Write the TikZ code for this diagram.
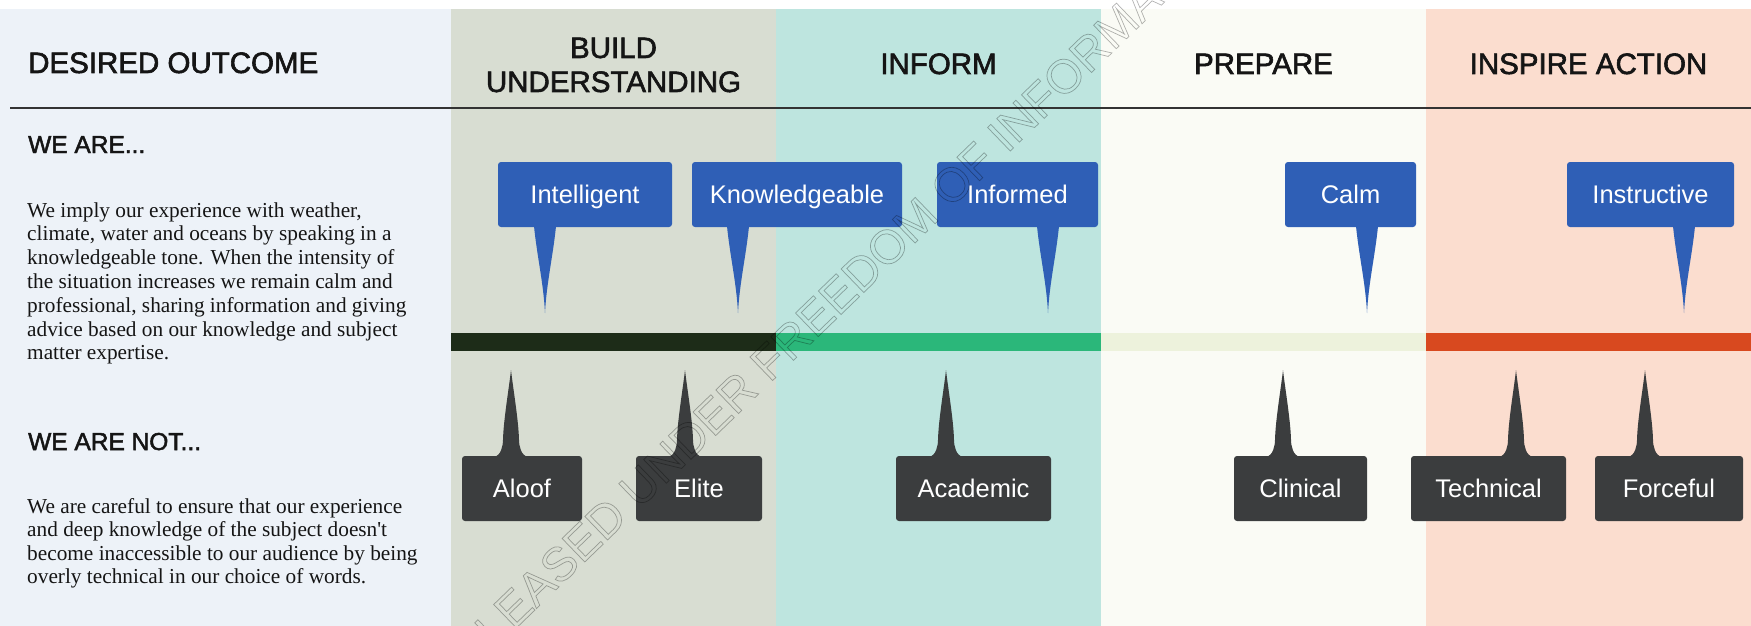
\documentclass[tikz,border=0pt]{standalone}
\usepackage{fontspec}
\setmainfont{Liberation Serif}
\setsansfont{Liberation Sans}
\newfontfamily\headfont[FakeBold=2]{Liberation Sans}
\usetikzlibrary{calc}

\definecolor{outcomebg}{HTML}{EDF2F8}
\definecolor{buildbg}{HTML}{D8DDD2}
\definecolor{informbg}{HTML}{BEE5DF}
\definecolor{preparebg}{HTML}{FAFBF5}
\definecolor{inspirebg}{HTML}{FBDDCF}
\definecolor{barbuild}{HTML}{1D2C18}
\definecolor{barinform}{HTML}{2BB77A}
\definecolor{barprepare}{HTML}{EDF2DC}
\definecolor{barinspire}{HTML}{D8491F}
\definecolor{isblue}{HTML}{2F5FB6}
\definecolor{notgrey}{HTML}{3B3D3E}
\definecolor{rulegrey}{HTML}{333333}
\definecolor{inktext}{HTML}{151515}

\begin{document}
\begin{tikzpicture}[x=1pt,y=-1pt,
  head/.style={font=\headfont\fontsize{29.5}{34}\selectfont, text=inktext, inner sep=0pt},
  subhead/.style={font=\headfont\fontsize{24.5}{30}\selectfont, text=inktext, inner sep=0pt},
  body/.style={font=\fontsize{21.3}{24}\selectfont, text=inktext, inner sep=0pt, anchor=base west},
  tagbox/.style={rounded corners=3pt, minimum height=65pt, inner sep=0pt, text=white,
    font=\sffamily\fontsize{25.5}{30}\selectfont, text height=18.3pt, text depth=0pt},
  isbox/.style={tagbox, fill=isblue},
  notbox/.style={tagbox, fill=notgrey},
]
\useasboundingbox (0,0) rectangle (1751,626);

% column backgrounds
\fill[outcomebg] (0,9) rectangle (451,626);
\fill[buildbg] (451,9) rectangle (776,626);
\fill[informbg] (776,9) rectangle (1101,626);
\fill[preparebg] (1101,9) rectangle (1426,626);
\fill[inspirebg] (1426,9) rectangle (1751,626);

% header rule
\draw[rulegrey, line width=1.5pt] (10,108) -- (1751,108);

% column headings
\node[head, anchor=base west] (outcome) at (28,73) {DESIRED OUTCOME};
\node[head, anchor=base] (build1) at (613.5,58) {BUILD};
\node[head, anchor=base] (build2) at (613.5,92) {UNDERSTANDING};
\node[head, anchor=base] (inform) at (938.5,74) {INFORM};
\node[head, anchor=base] (prepare) at (1263.5,74) {PREPARE};
\node[head, anchor=base] (inspire) at (1588.5,74) {INSPIRE ACTION};

% left column text
\node[subhead, anchor=base west] (weare) at (28,153) {WE ARE...};
\foreach \t [count=\i from 0] in {
  {We imply our experience with weather,},
  {climate, water and oceans by speaking in a},
  {knowledgeable tone. When the intensity of},
  {the situation increases we remain calm and},
  {professional, sharing information and giving},
  {advice based on our knowledge and subject},
  {matter expertise.}}
  \node[body] (weare-\i) at (27,217+23.8*\i) {\t};

\node[subhead, anchor=base west] (wearenot) at (28,450) {WE ARE NOT...};
\foreach \t [count=\i from 0] in {
  {We are careful to ensure that our experience},
  {and deep knowledge of the subject doesn\textquotesingle t},
  {become inaccessible to our audience by being},
  {overly technical in our choice of words.}}
  \node[body] (wearenot-\i) at (27,513+23.5*\i) {\t};

% scale bar
\fill[barbuild] (451,333) rectangle (776,351);
\fill[barinform] (776,333) rectangle (1101,351);
\fill[barprepare] (1101,333) rectangle (1426,351);
\fill[barinspire] (1426,333) rectangle (1751,351);

% what we are
\node[isbox, minimum width=174pt] (intelligent) at (585,194.5) {Intelligent};
\node[isbox, minimum width=210pt] (knowledgeable) at (797,194.5) {Knowledgeable};
\node[isbox, minimum width=161pt] (informed) at (1017.5,194.5) {Informed};
\node[isbox, minimum width=131pt] (calm) at (1350.5,194.5) {Calm};
\node[isbox, minimum width=167pt] (instructive) at (1650.5,194.5) {Instructive};

\foreach \n/\x in {intelligent/545, knowledgeable/738, informed/1048, calm/1367, instructive/1684} {
  \coordinate (\n-tip) at (\x,313);
  \coordinate (\n-base) at (\n.south -| \n-tip);
  \fill[isblue] ($(\n-base)+(-11,-1)$) .. controls +(3,30) and +(-1.5,-30) .. (\n-tip)
    .. controls +(1.5,-30) and +(-3,30) .. ($(\n-base)+(11,-1)$) -- cycle;
}

% what we are not
\node[notbox, minimum width=120pt] (aloof) at (522,488.5) {Aloof};
\node[notbox, minimum width=126pt] (elite) at (699,488.5) {Elite};
\node[notbox, minimum width=155pt] (academic) at (973.5,488.5) {Academic};
\node[notbox, minimum width=133pt] (clinical) at (1300.5,488.5) {Clinical};
\node[notbox, minimum width=155pt] (technical) at (1488.5,488.5) {Technical};
\node[notbox, minimum width=148pt] (forceful) at (1669,488.5) {Forceful};

\foreach \n/\x in {aloof/511, elite/685, academic/946, clinical/1283, technical/1516, forceful/1645} {
  \coordinate (\n-tip) at (\x,370);
  \coordinate (\n-base) at (\n.north -| \n-tip);
  \fill[notgrey] ($(\n-base)+(-17,1)$) .. controls +(7,-1) and +(0,6) .. ($(\n-base)+(-8,-16)$)
    .. controls +(0.5,-20) and +(-2,18) .. (\n-tip)
    .. controls +(2,18) and +(-0.5,-20) .. ($(\n-base)+(8,-16)$)
    .. controls +(0,6) and +(-7,-1) .. ($(\n-base)+(17,1)$) -- cycle;
}

% release stamp across the sheet, drawn as hollow letters
\coordinate (stamp-start) at (447,695);
\node[rotate=44, anchor=base west, font=\sffamily\fontsize{47.5}{47.5}\selectfont, text=black, opacity=0.3, inner sep=0pt]
  (stamp) at (stamp-start) {\special{pdf:literal direct 1 Tr 0.7 w}RELEASED UNDER FREEDOM OF INFORMATION\special{pdf:literal direct 0 Tr}};
\end{tikzpicture}
\end{document}
